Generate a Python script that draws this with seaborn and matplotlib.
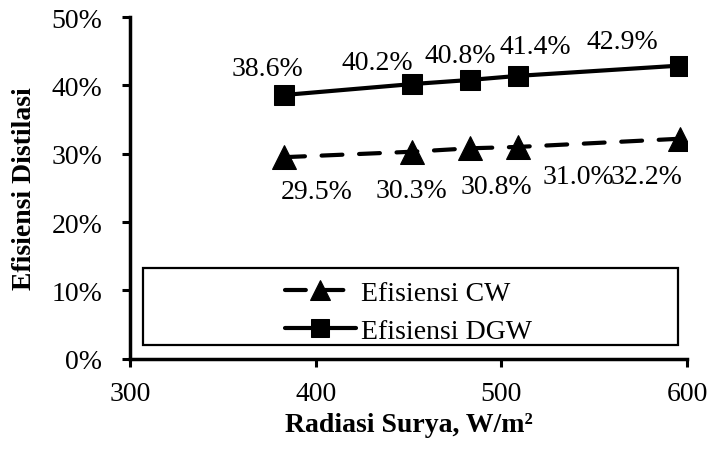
import numpy as np
import pandas as pd
import matplotlib.pyplot as plt
import seaborn as sns
from matplotlib.patches import Rectangle

# data
radiasi = [383, 452, 483, 509, 596]
eff_cw = [29.5, 30.3, 30.8, 31.0, 32.2]
eff_dgw = [38.6, 40.2, 40.8, 41.4, 42.9]

# label offsets in pixels (hand placed like the original)
off_cw = [(33, -34), (-1, -39), (26, -38), (60, -30), (-33, -38)]
off_dgw = [(-17, 26), (-35, 22), (-10, 24), (17, 29), (-57, 24)]

df = pd.DataFrame({
    "Radiasi": radiasi * 2,
    "Efisiensi": eff_cw + eff_dgw,
    "Seri": ["Efisiensi CW"] * 5 + ["Efisiensi DGW"] * 5,
})

sns.set_style("ticks")
plt.rcParams["font.family"] = ["Liberation Serif", "DejaVu Serif"]
plt.rcParams["text.color"] = "black"
plt.rcParams["axes.labelcolor"] = "black"
FS = 20

fig, ax = plt.subplots(figsize=(7.1, 4.52), dpi=100)
fig.subplots_adjust(left=0.183, right=0.968, top=0.960, bottom=0.204)

sns.lineplot(
    data=df, x="Radiasi", y="Efisiensi", style="Seri", ax=ax,
    markers={"Efisiensi CW": "^", "Efisiensi DGW": "s"},
    dashes={"Efisiensi CW": (5, 4), "Efisiensi DGW": ""},
    color="black", linewidth=3, markersize=14, markeredgecolor="black",
)
for ln in ax.lines:
    if ln.get_marker() == "^":
        ln.set_markersize(17)
    ln.set_dash_capstyle("round")

for x, y, o in zip(radiasi, eff_cw, off_cw):
    ax.annotate(f"{y:.1f}%", (x, y), xytext=o, textcoords="offset pixels",
                ha="center", va="center", fontsize=FS)
for x, y, o in zip(radiasi, eff_dgw, off_dgw):
    ax.annotate(f"{y:.1f}%", (x, y), xytext=o, textcoords="offset pixels",
                ha="center", va="center", fontsize=FS)

ax.set_xlim(300, 600)
ax.set_ylim(0, 50)
ax.set_xticks([300, 400, 500, 600])
ax.set_yticks(range(0, 51, 10))
ax.set_yticklabels([f"{v}%" for v in range(0, 51, 10)])
ax.set_xlabel("Radiasi Surya, W/m²", fontweight="bold", fontsize=FS, labelpad=4)
ax.set_ylabel("Efisiensi Distilasi", fontweight="bold", fontsize=FS, labelpad=10)
ax.tick_params(direction="out", length=6, width=2.2, colors="black", labelsize=FS)
ax.tick_params(axis="y", pad=14)
ax.tick_params(axis="x", pad=10)
for s in ["left", "bottom"]:
    ax.spines[s].set_linewidth(2.5)
    ax.spines[s].set_color("black")
sns.despine(ax=ax)

leg = ax.legend(loc="center", bbox_to_anchor=(0.5, 0.137), frameon=False,
                handlelength=2.55, handletextpad=0.2, labelspacing=0.45, fontsize=FS)
for h in leg.legend_handles:
    h.set_markersize(15 if h.get_marker() == "^" else 12.5)
ax.add_patch(Rectangle((0.023, 0.041), 0.961, 0.225, transform=ax.transAxes,
                       fill=False, edgecolor="black", linewidth=1.6, zorder=5))

fig.savefig("out.png", dpi=100)
